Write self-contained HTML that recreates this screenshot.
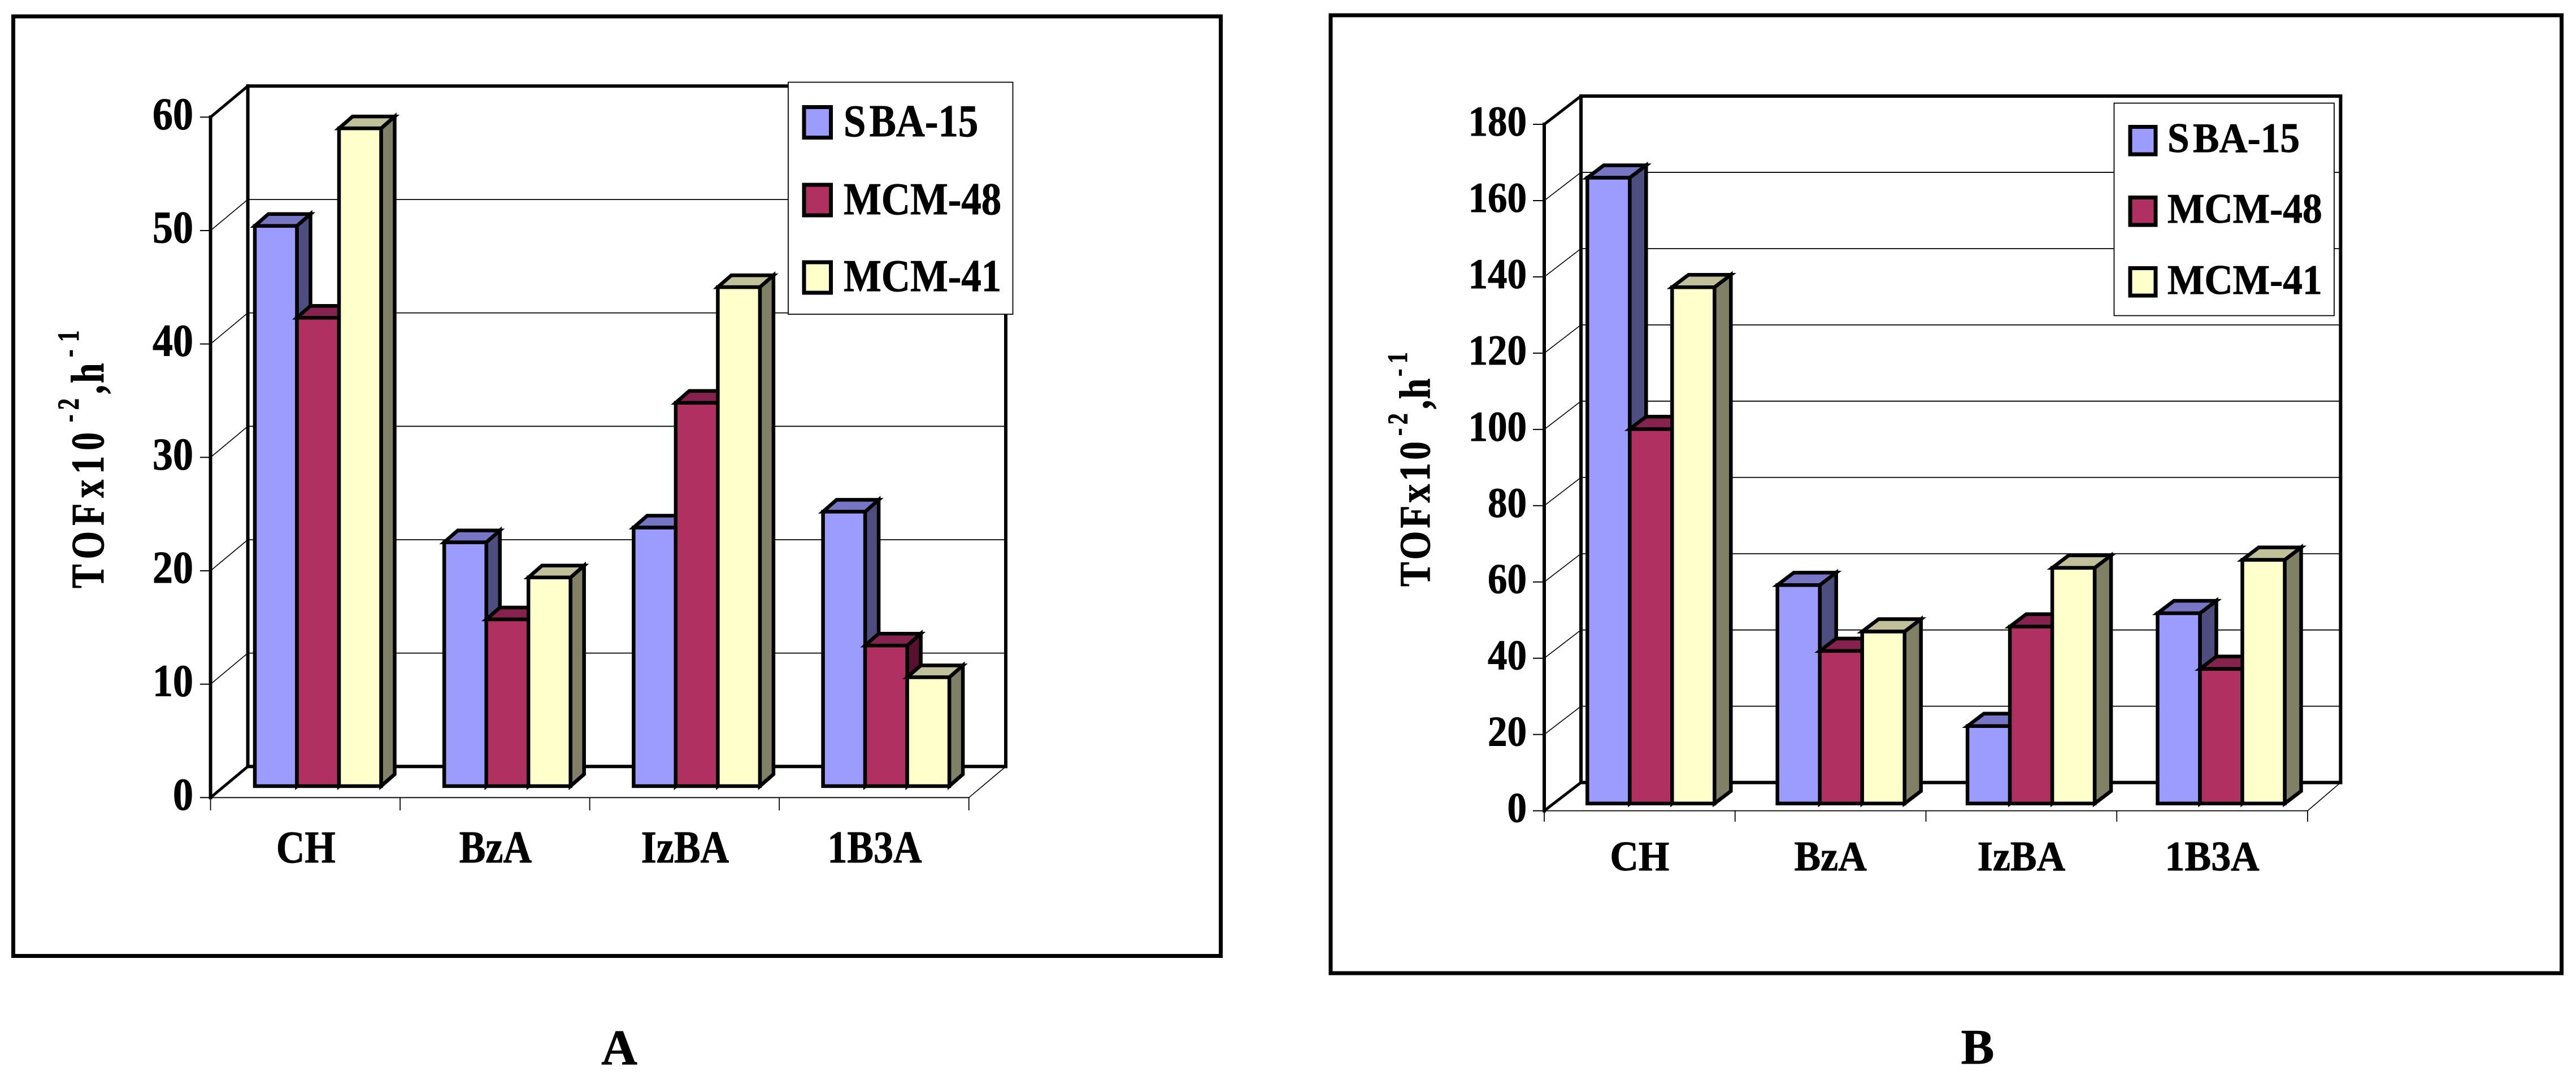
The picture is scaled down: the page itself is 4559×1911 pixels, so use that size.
<!DOCTYPE html>
<html lang="en">
<head>
<meta charset="utf-8">
<title>TOF of SBA-15, MCM-48 and MCM-41 catalysts</title>
<style>
html,body{margin:0;padding:0;background:#fff;}
svg{display:block;}
text{font-family:"Liberation Serif","DejaVu Serif",serif;font-weight:bold;fill:#000;stroke:#000;stroke-width:0.9;}
</style>
</head>
<body>
<svg id="figure" xmlns="http://www.w3.org/2000/svg" width="4559" height="1911" viewBox="0 0 4559 1911"></svg>
<script>
const categories = ['CH', 'BzA', 'IzBA', '1B3A'];
const seriesNames = ['SBA-15', 'MCM-48', 'MCM-41'];

const ticksA = [0, 10, 20, 30, 40, 50, 60];
const sba15A = [49.4, 21.5, 22.8, 24.2];
const mcm48A = [41.3, 14.7, 33.8, 12.4];
const mcm41A = [58.0, 18.4, 44.0, 9.6];

const ticksB = [0, 20, 40, 60, 80, 100, 120, 140, 160, 180];
const sba15B = [164.1, 57.3, 20.3, 49.9];
const mcm48B = [98.2, 40.0, 46.4, 35.3];
const mcm41B = [135.4, 45.1, 61.8, 63.9];

const palette = [
  {front: '#9C9CFF', top: '#7676C4', side: '#4D4D80'},
  {front: '#B03062', top: '#86224E', side: '#58102F'},
  {front: '#FFFFCC', top: '#C0C09A', side: '#808066'}
];

const geometryA = {
  id: 'a', letter: 'A', letterX: 1096, letterY: 1883, letterSize: 88,
  frame: {x1: 23.5, y1: 29, x2: 2160.5, y2: 1691.5},
  frontLeft: 372.6, frontRight: 1714.7, backLeft: 438.6, backRight: 1780, topY: 207.3,
  axisZero: 1411.3, depthY: 55, tickLeft: 355, tickBottom: 1433,
  labelRight: 342, labelShift: 21, fontSize: 80, labelScale: 0.9,
  barStart: 451, barStep: 335.2, barWidth: 74.5, barBase: 1391, barDx: 24, barDy: 21,
  catY: 1526, catSize: 80, catScale: 0.875, catShift: 1,
  legend: {x1: 1395, y1: 145.5, x2: 1792.5, y2: 556, swX: 1423, swW: 47.5, swH: 54,
    swY: [189.5, 327, 464], textX: 1493, textY: [241, 379, 515], scale: 0.885, size: 80, gap: 7},
  title: {base: 183, sup: 139, size: 83, supSize: 54, scale: 0.77, supScale: 0.75,
    main: [1041, 13], comma: [697, 4], sup1: [747, 11], sup2: [632, 18]}
};
const geometryB = {
  id: 'b', letter: 'B', letterX: 3500, letterY: 1882, letterSize: 88,
  frame: {x1: 2355, y1: 27, x2: 4533.5, y2: 1722},
  frontLeft: 2733, frontRight: 4084, backLeft: 2798, backRight: 4142.4, topY: 220,
  axisZero: 1434.6, depthY: 50, tickLeft: 2714, tickBottom: 1453,
  labelRight: 2702, labelShift: 20, fontSize: 75, labelScale: 0.92,
  barStart: 2809.3, barStep: 336.4, barWidth: 75, barBase: 1421.8, barDx: 29, barDy: 22,
  catY: 1540, catSize: 74, catScale: 0.946, catShift: 0,
  legend: {x1: 3741.5, y1: 182.5, x2: 4131, y2: 558.5, swX: 3770, swW: 45, swH: 48.5,
    swY: [224.5, 349.5, 474.5], textX: 3836, textY: [269, 394, 520], scale: 0.938, size: 74, gap: 7},
  title: {base: 2530, sup: 2490, size: 77, supSize: 50, scale: 0.85, supScale: 0.8,
    main: [1038, 6], comma: [724, 2], sup1: [771, 8], sup2: [666, 12]}
};

const svgNS = 'http://www.w3.org/2000/svg';
const figure = document.getElementById('figure');

function make(parent, tag, attrs, name, content) {
  const el = document.createElementNS(svgNS, tag);
  for (const key in attrs) el.setAttribute(key, attrs[key]);
  
  
  if (content !== undefined) el.textContent = content;
  parent.appendChild(el);
  return el;
}

function line(parent, x1, y1, x2, y2, width, name) {
  return make(parent, 'line', {x1: x1, y1: y1, x2: x2, y2: y2, stroke: '#000', 'stroke-width': width, 'stroke-linecap': 'square'}, name);
}

function poly(parent, pts, fill, name) {
  return make(parent, 'polygon', {
    points: pts.map(p => p[0].toFixed(1) + ',' + p[1].toFixed(1)).join(' '),
    fill: fill, stroke: '#000', 'stroke-width': 6.5, 'stroke-linejoin': 'miter'
  }, name);
}

function drawChart(g, ticks, series) {
  const root = make(figure, 'g', {}, 'chart-' + g.id);
  const F = g.frame;
  make(root, 'rect', {x: F.x1, y: F.y1, width: F.x2 - F.x1, height: F.y2 - F.y1, fill: 'none', stroke: '#000', 'stroke-width': 7}, 'chart-frame');

  const maxTick = ticks[ticks.length - 1];
  const unit = (g.axisZero - g.topY) / maxTick;
  const yAxis = v => g.axisZero - v * unit;
  const yBar = v => g.barBase - v * unit;

  // walls and gridlines
  const walls = make(root, 'g', {}, 'plot-walls');
  ticks.forEach(function (t, i) {
    const y = yAxis(t);
    if (i > 0 && i < ticks.length - 1) {
      line(walls, g.frontLeft, y, g.backLeft, y - g.depthY, 1.6, 'side-wall-gridline');
      line(walls, g.backLeft, y - g.depthY, g.backRight, y - g.depthY, 1.8, 'gridline');
    }
    line(walls, g.tickLeft, y, g.frontLeft, y, 2, 'y-axis-tick');
    make(walls, 'text', {
      transform: 'translate(' + g.labelRight + ',' + (y + g.labelShift) + ') scale(' + g.labelScale + ',1)',
      'text-anchor': 'end', 'font-size': g.fontSize
    }, 'y-axis-label', String(t));
  });
  const top = yAxis(maxTick);
  const zero = g.axisZero;
  line(walls, g.frontLeft, zero, g.frontLeft, top, 6, 'y-axis-front');
  line(walls, g.backLeft, zero - g.depthY, g.backLeft, top - g.depthY, 6, 'back-wall-left-edge');
  line(walls, g.backRight, zero - g.depthY, g.backRight, top - g.depthY, 6, 'back-wall-right-edge');
  line(walls, g.backLeft, top - g.depthY, g.backRight, top - g.depthY, 6, 'back-wall-top-edge');
  line(walls, g.backLeft, zero - g.depthY, g.backRight, zero - g.depthY, 6, 'back-wall-bottom-edge');
  line(walls, g.frontLeft, top, g.backLeft, top - g.depthY, 5, 'side-wall-top-edge');
  line(walls, g.frontLeft, zero, g.backLeft, zero - g.depthY, 5, 'side-wall-bottom-edge');
  line(walls, g.frontLeft, zero, g.frontRight, zero, 1.8, 'x-axis');
  line(walls, g.frontRight, zero, g.backRight, zero - g.depthY, 1.6, 'floor-right-edge');
  const catCount = categories.length;
  const step = (g.frontRight - g.frontLeft) / catCount;
  for (let i = 0; i <= catCount; i++) {
    const x = g.frontLeft + i * step;
    line(walls, x, zero, x, g.tickBottom, 1.8, 'x-axis-tick');
  }

  // bars
  const bars = make(root, 'g', {}, 'bars');
  categories.forEach(function (cat, c) {
    const group = make(bars, 'g', {}, 'bar-group-' + cat.toLowerCase());
    const gx = g.barStart + c * g.barStep;
    series.forEach(function (vals, s) {
      const x = gx + s * g.barWidth;
      const y = yBar(vals[c]);
      const w = g.barWidth, dx = g.barDx, dy = g.barDy, b = g.barBase;
      const col = palette[s];
      const bar = make(group, 'g', {}, 'bar-' + seriesNames[s].toLowerCase() + '-' + cat.toLowerCase());
      poly(bar, [[x + w, y], [x + w + dx, y - dy], [x + w + dx, b - dy], [x + w, b]], col.side, 'bar-side');
      poly(bar, [[x, y], [x + dx, y - dy], [x + w + dx, y - dy], [x + w, y]], col.top, 'bar-top');
      poly(bar, [[x, y], [x + w, y], [x + w, b], [x, b]], col.front, 'bar-front');
    });
    make(root, 'text', {
      transform: 'translate(' + (g.frontLeft + (c + 0.5) * step + g.catShift) + ',' + g.catY + ') scale(' + g.catScale + ',1)',
      'text-anchor': 'middle', 'font-size': g.catSize
    }, 'x-axis-label', cat);
  });

  // y axis title
  const T = g.title;
  const titleGroup = make(root, 'g', {}, 'y-axis-title');
  [['TOFx10', T.base, T.main, T.size, T.scale], ['-2', T.sup, T.sup1, T.supSize, T.supScale], [',h', T.base, T.comma, T.size, T.scale], ['-1', T.sup, T.sup2, T.supSize, T.supScale]].forEach(function (p) {
    make(titleGroup, 'text', {
      transform: 'translate(' + p[1] + ',' + p[2][0] + ') rotate(-90) scale(' + p[4] + ',1)',
      'font-size': p[3], 'letter-spacing': p[2][1]
    }, 'y-axis-title-part', p[0]);
  });

  // legend
  const L = g.legend;
  const legend = make(root, 'g', {}, 'legend');
  make(legend, 'rect', {x: L.x1, y: L.y1, width: L.x2 - L.x1, height: L.y2 - L.y1, fill: '#fff', stroke: '#000', 'stroke-width': 1.8}, 'legend-box');
  seriesNames.forEach(function (nm, s) {
    const entry = make(legend, 'g', {}, 'legend-entry-' + nm.toLowerCase());
    make(entry, 'rect', {x: L.swX, y: L.swY[s], width: L.swW, height: L.swH, fill: palette[s].front, stroke: '#000', 'stroke-width': 7}, 'legend-swatch');
    make(entry, 'text', {
      transform: 'translate(' + L.textX + ',' + L.textY[s] + ') scale(' + L.scale + ',1)',
      'font-size': L.size, dx: s === 0 ? '0 ' + L.gap : '0'
    }, 'legend-label', nm);
  });

  make(figure, 'text', {x: g.letterX, y: g.letterY, 'text-anchor': 'middle', 'font-size': g.letterSize}, 'panel-label-' + g.id, g.letter);
}

drawChart(geometryA, ticksA, [sba15A, mcm48A, mcm41A]);
drawChart(geometryB, ticksB, [sba15B, mcm48B, mcm41B]);
</script>
</body>
</html>
